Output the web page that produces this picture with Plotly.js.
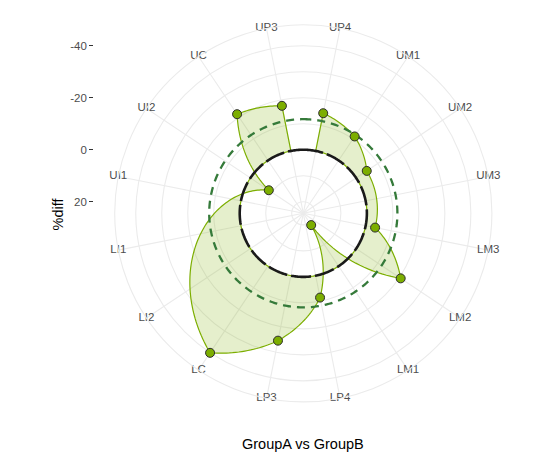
<!DOCTYPE html>
<html>
<head>
<meta charset="utf-8">
<script src="https://cdn.plot.ly/plotly-3.0.1.min.js"></script>
<style>
html,body{margin:0;padding:0;background:#fff;}
#chart{width:559px;height:456px;}
</style>
</head>
<body>
<div id="chart"></div>
<script>
// ---- data ----
var categories = ['UP4','UM1','UM2','UM3','LM3','LM2','LM1','LP4','LP3','LC','LI2','LI1','UI1','UI2','UC','UP3'];
var diffs      = [-14.8, -11.1, -4.9, null, -3.7, -20.6, 19.0, -8.6, -25.5, -40.1, null, null, null, 8.5, -21.4, -17.7];
var radialTicks = [-40, -20, 0, 20];
var radialTickText = ['-40', '-20', '0', '20'];
var xTitle = 'GroupA vs GroupB';
var yTitle = '%diff';

// ---- layout helpers ----
var R_CENTER = 24.46, R_OUTER = -48.1;
var step = 360 / categories.length;
function angleOf(i){ return step/2 + step*i; }

var present = [];
categories.forEach(function(c,i){ if(diffs[i] !== null) present.push({i:i, v:diffs[i]}); });
var meanDiff = present.reduce(function(s,p){return s+p.v;},0) / present.length;

// polar "munching": straight segments in (theta, r) become spirals, as in coord_polar
function munch(a, b){
  var th = [], r = [];
  var n = Math.max(2, Math.ceil(Math.abs(b.t - a.t)));
  for (var k = 0; k < n; k++){
    var f = k/n;
    th.push(a.t + (b.t - a.t)*f);
    r.push(a.r + (b.r - a.r)*f);
  }
  return {th: th, r: r};
}
var ribTh = [], ribR = [];
for (var k = 0; k < present.length - 1; k++){
  var m = munch({t: angleOf(present[k].i), r: present[k].v}, {t: angleOf(present[k+1].i), r: present[k+1].v});
  ribTh = ribTh.concat(m.th); ribR = ribR.concat(m.r);
}
var last = present[present.length-1], first = present[0];
ribTh.push(angleOf(last.i)); ribR.push(last.v);
// back along the zero line
var back = munch({t: angleOf(last.i), r: 0}, {t: angleOf(first.i), r: 0});
ribTh = ribTh.concat(back.th); ribR = ribR.concat(back.r);
ribTh.push(angleOf(first.i)); ribR.push(0);
ribTh.push(angleOf(first.i)); ribR.push(first.v);

function circle(val){
  var th = [], r = [];
  for (var a = 0; a <= 360; a += 1){ th.push(a); r.push(val); }
  return {th: th, r: r};
}
var zeroC = circle(0), meanC = circle(meanDiff);

var green = '#7CAE00';
var font = 'Liberation Sans, Arial, Helvetica, sans-serif';

var traces = [
  {type:'scatterpolar', theta: ribTh, r: ribR, mode:'lines', fill:'toself',
   fillcolor:'rgba(124,174,0,0.2)', line:{color:green, width:1.2}, hoverinfo:'skip', showlegend:false},
  {type:'scatterpolar', theta: meanC.th, r: meanC.r, mode:'lines',
   line:{color:'#357a3a', width:2.3, dash:'8px,6px'}, hoverinfo:'skip', showlegend:false},
  {type:'scatterpolar', theta: zeroC.th, r: zeroC.r, mode:'lines',
   line:{color:'#1a1a1a', width:2.6, dash:'20px,4px'}, hoverinfo:'skip', showlegend:false},
  {type:'scatterpolar', theta: present.map(function(p){return angleOf(p.i);}), r: present.map(function(p){return p.v;}),
   mode:'markers', marker:{color:green, size:9, line:{color:'#2b2b2b', width:1}}, showlegend:false},
  {type:'scatterpolar', theta: categories.map(function(c,i){return angleOf(i);}), r: categories.map(function(){return R_OUTER;}),
   mode:'text', text: categories, textposition:'middle center', cliponaxis:false,
   textfont:{family:font, size:11.5, color:'#4d4d4d'}, hoverinfo:'skip', showlegend:false},
  {type:'scatter', x:[], y:[], xaxis:'x', yaxis:'y', showlegend:false, hoverinfo:'skip'}
];

var W = 559, H = 456, cx = 303.3, cy = 213.3, rad = 188.6;
var layout = {
  width: W, height: H,
  margin:{l:0, r:0, t:0, b:0},
  paper_bgcolor:'#fff', plot_bgcolor:'rgba(0,0,0,0)',
  font:{family:font},
  showlegend:false,
  polar:{
    domain:{x:[(cx-rad)/W, (cx+rad)/W], y:[1-(cy+rad)/H, 1-(cy-rad)/H]},
    bgcolor:'#fff',
    radialaxis:{range:[R_CENTER, R_OUTER], tickvals:[20,10,0,-10,-20,-30,-40], showticklabels:false, ticks:'',
      showline:false, gridcolor:'#ebebeb', gridwidth:1.1},
    angularaxis:{direction:'clockwise', rotation:90, tickmode:'array',
      tickvals: categories.map(function(c,i){return angleOf(i);}), showticklabels:false, ticks:'',
      showline:true, linecolor:'#ebebeb', linewidth:1.1, gridcolor:'#ebebeb', gridwidth:1.1}
  },
  xaxis:{domain:[0,0.16], visible:false, range:[0,1]},
  yaxis:{anchor:'free', position:92.7/W, domain:[1-cy/H, 1-(cy-rad)/H],
    range:[R_CENTER, R_OUTER], tickmode:'array', tickvals: radialTicks, ticktext: radialTickText,
    ticks:'outside', ticklen:3.5, tickwidth:1.1, tickcolor:'#333', showgrid:false, zeroline:false, showline:false,
    tickfont:{family:font, size:11.5, color:'#4d4d4d'}},
  annotations:[
    {text:yTitle, xref:'paper', yref:'paper', x:57.5/W, y:1-214/H, xanchor:'center', yanchor:'middle',
     showarrow:false, textangle:-90, font:{family:font, size:14.5, color:'#000'}},
    {text:xTitle, xref:'paper', yref:'paper', x:302.8/W, y:1-444/H, xanchor:'center', yanchor:'middle',
     showarrow:false, font:{family:font, size:14.5, color:'#000'}}
  ]
};
Plotly.newPlot('chart', traces, layout, {displayModeBar:false, staticPlot:true});
</script>
</body>
</html>
